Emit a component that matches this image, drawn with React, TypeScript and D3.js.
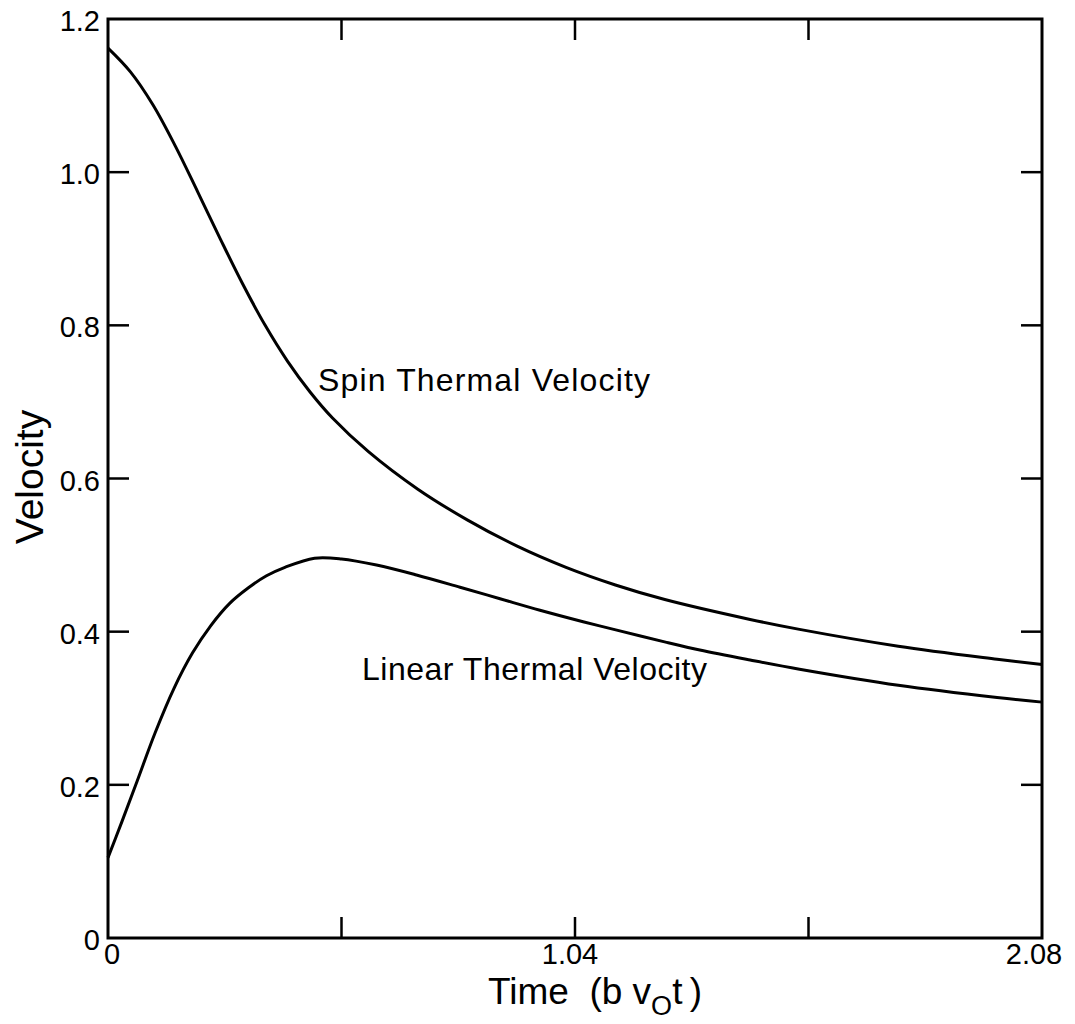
import React from "react";
import * as d3 from "d3";

// Spin thermal velocity curve
const timeSpin = [0, 0.05, 0.1, 0.15, 0.2, 0.25, 0.3, 0.35, 0.4, 0.45, 0.5, 0.58, 0.69, 0.8, 0.91, 1.02, 1.13, 1.24, 1.43, 1.54, 1.76, 1.98, 2.08];
const spinVel = [1.162, 1.131, 1.088, 1.034, 0.974, 0.913, 0.854, 0.8, 0.753, 0.713, 0.679, 0.635, 0.586, 0.546, 0.512, 0.484, 0.461, 0.442, 0.416, 0.403, 0.381, 0.364, 0.357];

// Linear thermal velocity curve
const timeLin = [0, 0.031, 0.065, 0.105, 0.147, 0.188, 0.229, 0.271, 0.312, 0.353, 0.394, 0.46, 0.52, 0.598, 0.687, 0.784, 0.873, 0.962, 1.058, 1.133, 1.244, 1.318, 1.43, 1.54, 1.76, 1.98, 2.08];
const linVel = [0.105, 0.152, 0.205, 0.268, 0.326, 0.372, 0.408, 0.437, 0.457, 0.473, 0.484, 0.496, 0.495, 0.487, 0.474, 0.458, 0.443, 0.428, 0.413, 0.402, 0.386, 0.376, 0.363, 0.351, 0.33, 0.314, 0.308];

const xTicks = [0.52, 1.04, 1.56];
const xTickLabels = ["0", "1.04", "2.08"];
const xTickLabelValues = [0, 1.04, 2.08];
const yTicks = [0.2, 0.4, 0.6, 0.8, 1.0];
const yTickLabels = ["0", "0.2", "0.4", "0.6", "0.8", "1.0", "1.2"];
const yTickLabelValues = [0, 0.2, 0.4, 0.6, 0.8, 1.0, 1.2];

const seriesLabels = ["Spin Thermal Velocity", "Linear Thermal Velocity"];
const yTitle = "Velocity";

const W = 1075;
const H = 1024;
const FONT = "'Liberation Sans', Arial, sans-serif";

export default function App() {
  const x = d3.scaleLinear().domain([0, 2.08]).range([108, 1042]);
  const y = d3.scaleLinear().domain([0, 1.2]).range([938, 19]);
  const line = d3
    .line<[number, number]>()
    .x((d) => x(d[0]))
    .y((d) => y(d[1]))
    .curve(d3.curveCatmullRom.alpha(0.5));
  const spinPath = line(timeSpin.map((t, i) => [t, spinVel[i]]) as [number, number][]) || "";
  const linPath = line(timeLin.map((t, i) => [t, linVel[i]]) as [number, number][]) || "";
  const tl = 21;
  const x0 = x(0), x1 = x(2.08), y0 = y(0), y1 = y(1.2);
  const xLabelDx = [4, -5, -8];

  return (
    <svg
      width={W}
      height={H}
      viewBox={`0 0 ${W} ${H}`}
      style={{ position: "absolute", left: 0, top: 0, background: "#fff" }}
    >
      <rect x={0} y={0} width={W} height={H} fill="#fff" />
      {/* frame */}
      <rect x={x0} y={y1} width={x1 - x0} height={y0 - y1} fill="none" stroke="#000" strokeWidth={3} />
      {/* ticks */}
      {xTicks.map((t) => (
        <g key={"xt" + t}>
          <line x1={x(t)} x2={x(t)} y1={y0} y2={y0 - tl} stroke="#000" strokeWidth={2.5} />
          <line x1={x(t)} x2={x(t)} y1={y1} y2={y1 + tl} stroke="#000" strokeWidth={2.5} />
        </g>
      ))}
      {yTicks.map((v) => (
        <g key={"yt" + v}>
          <line x1={x0} x2={x0 + tl} y1={y(v)} y2={y(v)} stroke="#000" strokeWidth={2.5} />
          <line x1={x1} x2={x1 - tl} y1={y(v)} y2={y(v)} stroke="#000" strokeWidth={2.5} />
        </g>
      ))}
      {/* curves */}
      <path d={spinPath} fill="none" stroke="#000" strokeWidth={3} />
      <path d={linPath} fill="none" stroke="#000" strokeWidth={3} />
      {/* tick labels */}
      {yTickLabelValues.map((v, i) => (
        <text key={"yl" + v} x={100} y={y(v) + 12} textAnchor="end" fontFamily={FONT} fontSize={29} fill="#000">
          {yTickLabels[i]}
        </text>
      ))}
      {xTickLabelValues.map((v, i) => (
        <text key={"xl" + v} x={x(v) + xLabelDx[i]} y={964} textAnchor="middle" fontFamily={FONT} fontSize={29} fill="#000">
          {xTickLabels[i]}
        </text>
      ))}
      {/* series labels */}
      <text x={318} y={391} fontFamily={FONT} fontSize={32} fill="#000" textLength={332} lengthAdjust="spacing">
        {seriesLabels[0]}
      </text>
      <text x={362} y={680} fontFamily={FONT} fontSize={32} fill="#000" textLength={345} lengthAdjust="spacing">
        {seriesLabels[1]}
      </text>
      {/* axis titles */}
      <text x={488} y={1004} fontFamily={FONT} fontSize={37} fill="#000">
        Time{"\u00a0\u00a0"}(b{"\u00a0"}v
        <tspan dy={11} fontSize={27}>O</tspan>
        <tspan dy={-11}>t{"\u2009"})</tspan>
      </text>
      <text transform="translate(43,477) rotate(-90)" textAnchor="middle" fontFamily={FONT} fontSize={39} fill="#000">
        {yTitle}
      </text>
    </svg>
  );
}
